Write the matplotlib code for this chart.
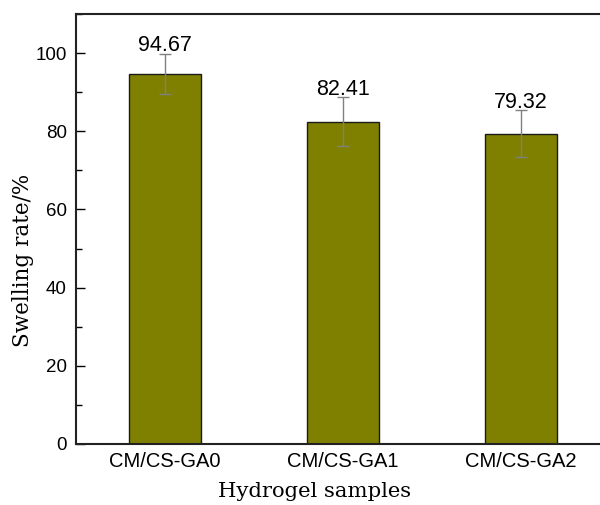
import matplotlib as mpl
mpl.use('Agg')

import numpy as np
import matplotlib.pyplot as plt
from matplotlib.ticker import MultipleLocator

samples = ['CM/CS-GA0', 'CM/CS-GA1', 'CM/CS-GA2']
swelling = [94.67, 82.41, 79.32]
errors = [5.1, 6.3, 6.0]
labels = ['94.67', '82.41', '79.32']

fig = plt.figure(figsize=(6.0, 5.05), dpi=100)
ax = fig.add_axes([0.1267, 0.1208, 0.89, 0.8515])

x = np.arange(len(samples))
ax.bar(x, swelling, width=0.4, color='#808000', edgecolor='#1a1a1a',
       linewidth=1.0, zorder=2)
ax.errorbar(x, swelling, yerr=errors, fmt='none', ecolor='#808080',
            elinewidth=1.0, capsize=4, capthick=1.0, zorder=3)

for xi, val, err, lab in zip(x, swelling, errors, labels):
    ax.text(xi, val + err - 0.6, lab, ha='center', va='bottom',
            fontsize=15.5, family='Liberation Sans')

ax.set_xlim(-0.5, 2.5)
ax.set_ylim(0, 110)
ax.set_xticks(x)
ax.set_xticklabels(samples, family='Liberation Sans', fontsize=14.5)
ax.yaxis.set_major_locator(MultipleLocator(20))
ax.yaxis.set_minor_locator(MultipleLocator(10))
for lab in ax.get_yticklabels():
    lab.set_family('Liberation Sans')
ax.tick_params(axis='y', which='major', direction='in', length=6.5,
               width=1.0, labelsize=13.5, pad=6.5)
ax.tick_params(axis='y', which='minor', direction='in', length=4, width=1.0)
ax.tick_params(axis='x', length=0, pad=6)

for sp in ax.spines.values():
    sp.set_linewidth(1.5)
    sp.set_color('#222222')

ax.set_ylabel('Swelling rate/%', family='DejaVu Serif', fontsize=15.5)
ax.set_xlabel('Hydrogel samples', family='DejaVu Serif', fontsize=15.2)
# labels sit off-centre in the original
ax.yaxis.set_label_coords(-0.078, 0.428)
ax.xaxis.set_label_coords(0.446, -0.088)

plt.savefig('out.png', dpi=100)
plt.close()
